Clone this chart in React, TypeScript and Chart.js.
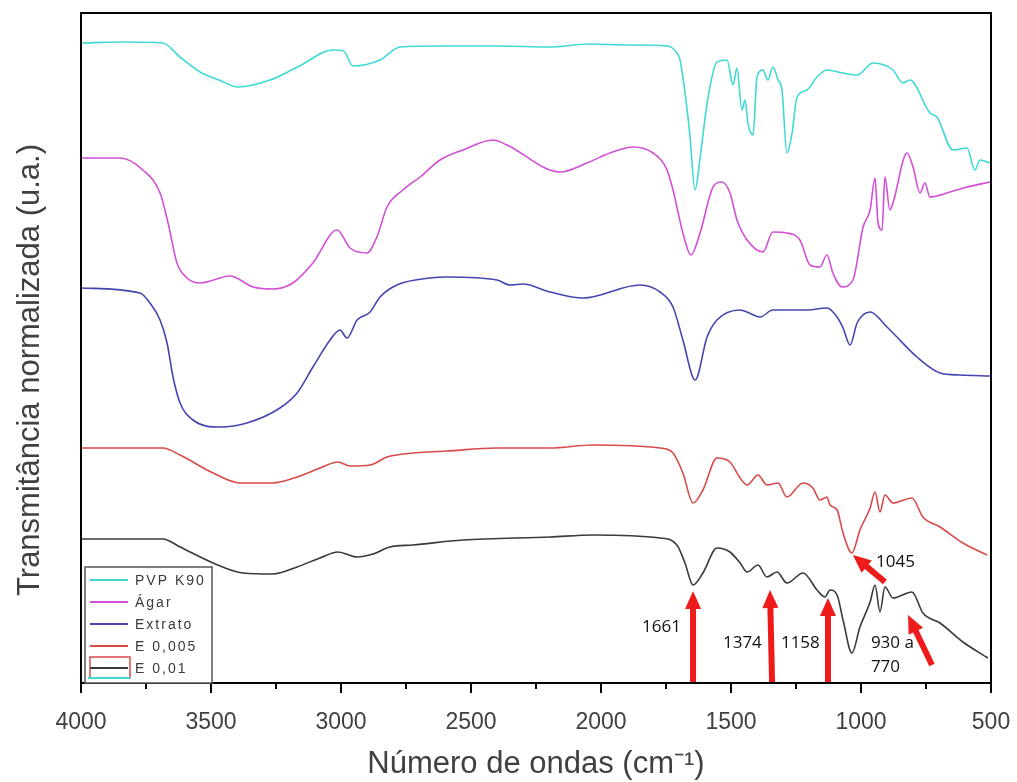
import { useEffect, useRef } from "react";
import { Chart, registerables } from "chart.js";

Chart.register(...registerables);

// ---- Data (wavenumber in cm-1, normalized transmittance in arbitrary units) ----
const pvpWn = [4000,3850,3685,3620,3542,3470,3396,3273,3160,3031,2990,2954,2850,2773,2600,2389,2200,2042,1900,1746,1708,1696,1660,1638,1620,1590,1554,1515,1492,1477,1458,1446,1435,1415,1400,1377,1358,1339,1319,1304,1285,1265,1246,1208,1169,1131,1070,1015,954,877,839,812,735,708,646,592,562,542,504];
const pvpT = [640,641,640,626,611,603,596,603,617,633,632,617,623,636,637,637,636,639,638,637,630,623,553,493,523,583,621,623,598,615,573,583,560,548,606,613,603,616,603,593,530,550,586,593,606,613,610,608,620,613,600,603,570,566,533,535,513,523,520];

const agarWn = [4000,3850,3762,3696,3665,3631,3592,3542,3427,3338,3262,3185,3108,3015,2965,2900,2862,2823,2762,2696,2619,2531,2415,2362,2158,2054,1965,1877,1800,1746,1723,1685,1654,1619,1569,1535,1504,1477,1438,1377,1339,1285,1235,1196,1158,1131,1108,1073,1031,992,965,946,935,919,908,889,877,823,800,773,754,735,658,592,504];
const agarT = [525,525,513,490,460,420,405,400,407,396,394,400,420,453,435,430,446,476,493,506,523,533,543,538,511,520,530,536,530,513,493,450,428,450,496,501,490,463,443,431,451,450,443,418,416,428,410,396,403,456,473,505,461,453,506,473,480,530,516,490,500,486,491,496,501];

const extWn = [4000,3773,3735,3696,3669,3646,3619,3569,3465,3362,3235,3169,3108,3042,3004,2977,2938,2888,2850,2785,2658,2592,2400,2350,2300,2196,2069,1850,1773,1723,1685,1638,1592,1554,1465,1430,1388,1339,1208,1131,1092,1069,1042,1015,965,900,862,785,696,619,504];
const extT = [395,390,380,363,340,306,280,263,256,260,275,290,316,343,353,345,363,371,386,398,405,406,403,398,399,391,385,398,391,376,343,303,346,363,373,370,366,373,373,375,366,355,338,360,371,356,346,326,310,308,307];

const e005Wn = [4000,3685,3619,3492,3388,3262,3169,3081,3012,2965,2888,2823,2762,2592,2400,2196,2031,1773,1723,1685,1646,1608,1554,1504,1465,1438,1396,1362,1319,1285,1223,1185,1158,1131,1119,1092,1069,1035,1004,965,946,927,908,877,804,762,696,608,515];
const e005T = [235,235,228,210,200,200,206,215,221,217,218,226,229,232,235,235,238,235,230,210,180,193,225,221,205,198,208,198,200,186,200,195,183,186,178,173,150,130,153,175,191,171,188,180,185,166,156,140,128];

const e01Wn = [4000,3685,3619,3492,3377,3262,3169,3081,3012,2938,2877,2812,2723,2531,2196,2031,1773,1708,1677,1646,1608,1554,1504,1465,1438,1396,1362,1323,1285,1223,1169,1139,1119,1092,1069,1035,1004,965,946,927,908,877,804,762,696,608,512];
const e01T = [144,144,136,120,110,109,116,125,131,126,129,136,138,143,146,148,145,138,120,98,110,135,131,120,111,118,106,111,100,110,93,86,93,88,63,30,56,81,98,71,96,85,91,70,60,41,25];

const seriesLabels = ["PVP K90", "Ágar", "Extrato", "E 0,005", "E 0,01"];
const seriesColors = ["#3fdad4", "#d24fd6", "#4545b0", "#d94a4a", "#3a3a3a"];

// Annotation arrows (from -> tip) in data coordinates
const arrowFromWn = [1646, 1342, 1127, 908, 727];
const arrowFromY = [0, 0, 0, 101, 18];
const arrowToWn = [1646, 1350, 1127, 1031, 819];
const arrowToY = [92, 93, 85, 128, 68];

// Annotation labels
const noteTexts = ["1661", "1374", "1158", "930 a", "770", "1045"];
const noteWn = [1842, 1531, 1308, 962, 962, 942];
const noteY = [56, 40, 40, 40, 16, 121];

const FONT = "'Liberation Sans', Arial, sans-serif";

const zip = (xs: number[], ys: number[]) => xs.map((x, i) => ({ x, y: ys[i] }));

const overlayPlugin = {
  id: "overlay",
  afterDatasetsDraw(chart: any) {
    const { ctx, chartArea, scales } = chart;
    const xs = scales.x;
    const ys = scales.y;
    ctx.save();

    // arrows
    ctx.fillStyle = "#ee1b1b";
    for (let i = 0; i < arrowFromWn.length; i++) {
      const x0 = xs.getPixelForValue(arrowFromWn[i]);
      const y0 = ys.getPixelForValue(arrowFromY[i]);
      const x1 = xs.getPixelForValue(arrowToWn[i]);
      const y1 = ys.getPixelForValue(arrowToY[i]);
      const ang = Math.atan2(y1 - y0, x1 - x0);
      const len = Math.hypot(x1 - x0, y1 - y0);
      const headL = 18, headW = 8, shaft = 3;
      ctx.save();
      ctx.translate(x0, y0);
      ctx.rotate(ang);
      ctx.beginPath();
      ctx.moveTo(0, -shaft);
      ctx.lineTo(len - headL, -shaft);
      ctx.lineTo(len - headL, -headW);
      ctx.lineTo(len, 0);
      ctx.lineTo(len - headL, headW);
      ctx.lineTo(len - headL, shaft);
      ctx.lineTo(0, shaft);
      ctx.closePath();
      ctx.fill();
      ctx.restore();
    }

    // labels
    ctx.fillStyle = "#111";
    ctx.font = "17px 'Open Sans', sans-serif";
    ctx.textAlign = "left";
    ctx.textBaseline = "middle";
    for (let i = 0; i < noteTexts.length; i++) {
      ctx.fillText(noteTexts[i], xs.getPixelForValue(noteWn[i]), ys.getPixelForValue(noteY[i]));
    }

    // frame
    ctx.strokeStyle = "#000";
    ctx.lineWidth = 2;
    ctx.strokeRect(chartArea.left, chartArea.top, chartArea.right - chartArea.left, chartArea.bottom - chartArea.top);

    // ticks (major every 500, minor every 250)
    for (let v = 500; v <= 4000; v += 250) {
      const px = xs.getPixelForValue(v);
      const l = v % 500 === 0 ? 10 : 6;
      ctx.beginPath();
      ctx.moveTo(px, chartArea.bottom);
      ctx.lineTo(px, chartArea.bottom + l);
      ctx.stroke();
    }

    // legend
    const lx = chartArea.left + 4, ly = chartArea.bottom - 116;
    ctx.fillStyle = "#fff";
    ctx.fillRect(lx, ly, 127, 116);
    ctx.strokeStyle = "#555";
    ctx.lineWidth = 1.5;
    ctx.strokeRect(lx, ly, 127, 116);
    ctx.font = "14px " + FONT;
    (ctx as any).letterSpacing = "2px";
    ctx.textBaseline = "middle";
    for (let i = 0; i < seriesLabels.length; i++) {
      const yy = ly + 13 + i * 22;
      if (i === 4) {
        ctx.strokeStyle = "#d94a4a";
        ctx.lineWidth = 1.5;
        ctx.strokeRect(lx + 5, yy - 11, 40, 21);
        ctx.strokeStyle = "#3fdad4";
        ctx.lineWidth = 2;
        ctx.beginPath();
        ctx.moveTo(lx + 3, yy + 10);
        ctx.lineTo(lx + 45, yy + 10);
        ctx.stroke();
      }
      ctx.strokeStyle = seriesColors[i];
      ctx.lineWidth = 2;
      ctx.beginPath();
      ctx.moveTo(lx + 5, yy);
      ctx.lineTo(lx + 43, yy);
      ctx.stroke();
      ctx.fillStyle = "#3a3a3a";
      ctx.fillText(seriesLabels[i], lx + 50, yy + 1);
    }
    (ctx as any).letterSpacing = "0px";

    // y title
    ctx.save();
    ctx.translate(30, 370);
    ctx.rotate(-Math.PI / 2);
    ctx.fillStyle = "#404040";
    ctx.font = "31px " + FONT;
    ctx.textAlign = "center";
    ctx.textBaseline = "middle";
    ctx.fillText("Transmitância normalizada (u.a.)", 0, 0);
    ctx.restore();

    ctx.restore();
  },
};

export default function App() {
  const ref = useRef<HTMLCanvasElement>(null);
  useEffect(() => {
    document.body.style.margin = "0";
    const wns = [pvpWn, agarWn, extWn, e005Wn, e01Wn];
    const ts = [pvpT, agarT, extT, e005T, e01T];
    const chart = new Chart(ref.current as HTMLCanvasElement, {
      type: "line",
      data: {
        datasets: seriesLabels.map((label, i) => ({
          label,
          data: zip(wns[i], ts[i]),
          borderColor: seriesColors[i],
          backgroundColor: seriesColors[i],
          borderWidth: 1.6,
          pointRadius: 0,
          cubicInterpolationMode: "monotone",
          fill: false,
        })),
      },
      options: {
        responsive: false,
        animation: false,
        layout: { padding: { left: 81, top: 13, right: 26, bottom: 0 } },
        plugins: { legend: { display: false }, tooltip: { enabled: false } },
        scales: {
          x: {
            type: "linear",
            reverse: true,
            min: 500,
            max: 4000,
            afterFit: (s: any) => {
              s.height = 99;
              s.paddingLeft = 0;
              s.paddingRight = 0;
            },
            grid: { display: false },
            border: { display: false },
            ticks: {
              stepSize: 500,
              padding: 18,
              color: "#404040",
              maxRotation: 0,
              autoSkip: false,
              font: { family: FONT, size: 23 },
              callback: (v: any) => String(v),
            },
            title: {
              display: true,
              text: "Número de ondas (cm⁻¹)",
              color: "#404040",
              font: { family: FONT, size: 31, lineHeight: 1.1 },
              padding: { top: 0, bottom: 0 },
            },
          },
          y: { display: false, min: 0, max: 670 },
        },
      },
      plugins: [overlayPlugin],
    });
    return () => chart.destroy();
  }, []);
  return (
    <div style={{ position: "fixed", left: 0, top: 0 }}>
      <canvas ref={ref} width={1017} height={782} style={{ display: "block" }} />
    </div>
  );
}
